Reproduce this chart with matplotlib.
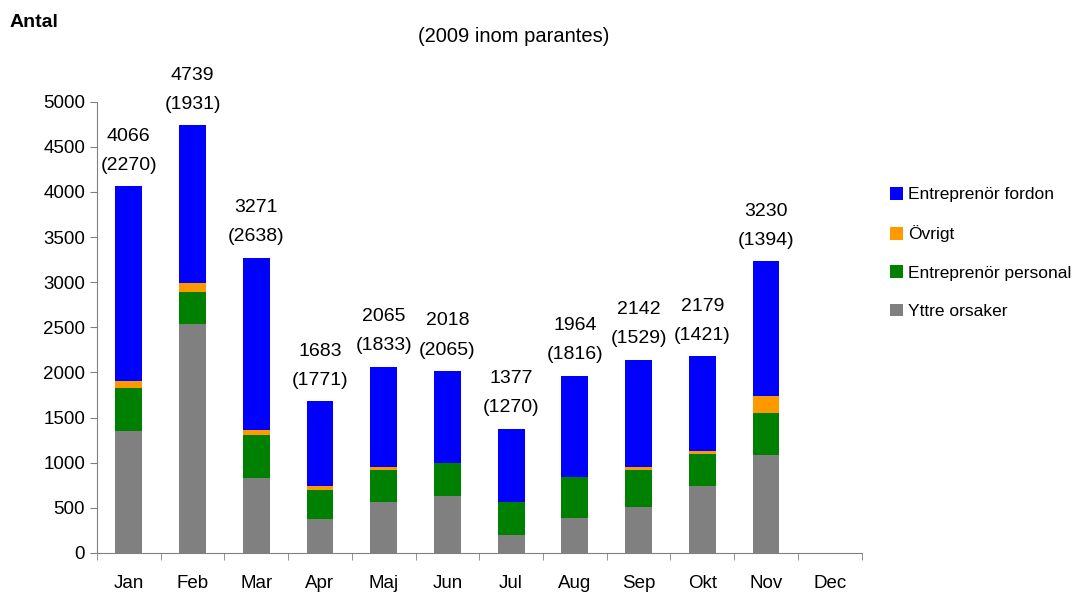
import matplotlib.pyplot as plt
import numpy as np

plt.rcParams['font.family'] = ['Liberation Sans', 'DejaVu Sans']

# months, Dec has no data yet
months = ['Jan', 'Feb', 'Mar', 'Apr', 'Maj', 'Jun', 'Jul', 'Aug', 'Sep', 'Okt', 'Nov', 'Dec']
yttre = [1354, 2539, 834, 380, 568, 634, 203, 391, 513, 745, 1088, 0]
personal = [476, 354, 476, 321, 354, 366, 365, 454, 409, 354, 465, 0]
ovrigt = [78, 100, 55, 44, 33, 0, 0, 0, 33, 33, 188, 0]
totals = [4066, 4739, 3271, 1683, 2065, 2018, 1377, 1964, 2142, 2179, 3230, 0]
prev_year = [2270, 1931, 2638, 1771, 1833, 2065, 1270, 1816, 1529, 1421, 1394, None]

yttre = np.array(yttre)
personal = np.array(personal)
ovrigt = np.array(ovrigt)
fordon = np.array(totals) - yttre - personal - ovrigt

fig = plt.figure(figsize=(10.77, 5.95), dpi=100)
ax = fig.add_axes([0.090, 0.0706, 0.710, 0.7584])

x = np.arange(len(months))
w = 0.42
c_gray, c_green, c_orange, c_blue = '#808080', '#008000', '#FF9900', '#0000FF'
b1 = ax.bar(x, yttre, w, color=c_gray)
b2 = ax.bar(x, personal, w, bottom=yttre, color=c_green)
b3 = ax.bar(x, ovrigt, w, bottom=yttre + personal, color=c_orange)
b4 = ax.bar(x, fordon, w, bottom=yttre + personal + ovrigt, color=c_blue)

for i, (t, p) in enumerate(zip(totals, prev_year)):
    if p is None:
        continue
    ax.annotate(str(t), xy=(i, t), xytext=(0, 36), textcoords='offset points',
                ha='center', va='center', fontsize=14)
    ax.annotate('(%d)' % p, xy=(i, t), xytext=(0, 15), textcoords='offset points',
                ha='center', va='center', fontsize=14)

ax.set_xlim(-0.5, 11.5)
ax.set_ylim(0, 5000)
ax.set_yticks(np.arange(0, 5001, 500))
ax.set_xticks(x)
ax.set_xticklabels(months)
ax.set_xticks(np.arange(-0.5, 12, 1), minor=True)
ax.tick_params(axis='x', which='major', length=0, labelsize=13.5, pad=16)
ax.tick_params(axis='x', which='minor', length=5, color='#808080')
ax.tick_params(axis='y', length=5, color='#808080', labelsize=13.5)
for s in ['top', 'right']:
    ax.spines[s].set_visible(False)
for s in ['left', 'bottom']:
    ax.spines[s].set_color('#808080')

fig.text(0.009, 0.962, 'Antal', fontsize=14, fontweight='bold', va='center')
fig.text(0.477, 0.938, '(2009 inom parantes)', fontsize=14.5, ha='center', va='center')

fig.legend([b4, b3, b2, b1],
           ['Entreprenör fordon', 'Övrigt', 'Entreprenör personal', 'Yttre orsaker'],
           loc='upper left', bbox_to_anchor=(0.812, 0.712), frameon=False,
           fontsize=12.5, handlelength=0.75, handleheight=0.75, handletextpad=0.3,
           labelspacing=1.32)

fig.savefig('out.png', dpi=100)
